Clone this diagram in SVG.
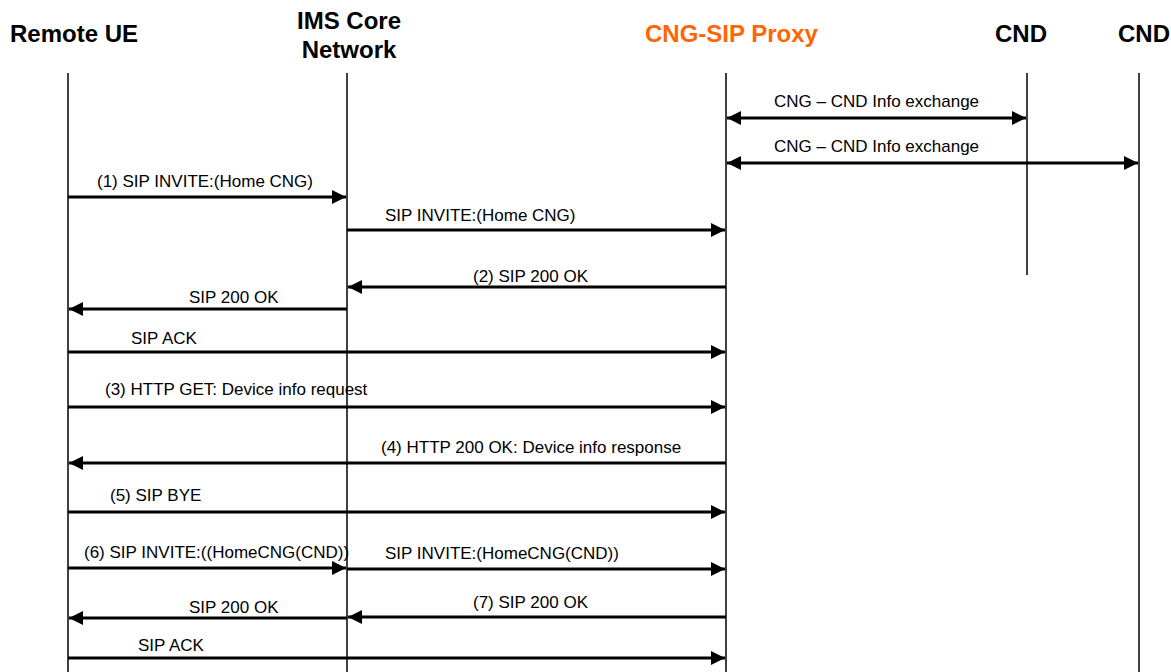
<svg xmlns="http://www.w3.org/2000/svg" width="1171" height="672" viewBox="0 0 1171 672">
<style>
.hdr{font-family:"Liberation Sans",Arial,sans-serif;font-weight:bold;font-size:24px;fill:#000}
.org{fill:#FF6600}
.lbl{font-family:"Liberation Sans",Arial,sans-serif;font-size:17px;fill:#000}
.life{stroke:#000;stroke-width:1.5;fill:none}
.msg{stroke:#000;stroke-width:3;fill:none;marker-end:url(#ah)}
.both{marker-start:url(#ah)}
</style>
<defs>
<marker id="ah" markerUnits="userSpaceOnUse" markerWidth="15" markerHeight="14" refX="14" refY="7" orient="auto-start-reverse" viewBox="0 0 15 14">
<path d="M0,0 L14,7 L0,14 z" fill="#000"/>
</marker>
</defs>
<rect width="1171" height="672" fill="#fff"/>
<g id="remote-ue">
<text class="hdr" x="10" y="42">Remote UE</text>
<line class="life" x1="68" y1="73" x2="68" y2="672"/>
</g>
<g id="ims-core">
<text class="hdr" x="349" y="29" text-anchor="middle">IMS Core</text>
<text class="hdr" x="349" y="58" text-anchor="middle">Network</text>
<line class="life" x1="347" y1="73" x2="347" y2="672"/>
</g>
<g id="cng-sip-proxy">
<text class="hdr org" x="645" y="42">CNG-SIP Proxy</text>
<line class="life" x1="726" y1="73" x2="726" y2="672"/>
</g>
<g id="cnd-1">
<text class="hdr" x="995" y="42">CND</text>
<line class="life" x1="1027" y1="73" x2="1027" y2="275"/>
</g>
<g id="cnd-2">
<text class="hdr" x="1118" y="42">CND</text>
<line class="life" x1="1139" y1="73" x2="1139" y2="672"/>
</g>
<g id="connectors">
<line class="msg both" x1="727" y1="118" x2="1026" y2="118"/>
<text class="lbl" x="774" y="107">CNG – CND Info exchange</text>
<line class="msg both" x1="727" y1="163" x2="1138" y2="163"/>
<text class="lbl" x="774" y="152">CNG – CND Info exchange</text>
<line class="msg" x1="68" y1="197" x2="346" y2="197"/>
<text class="lbl" x="97" y="187">(1) SIP INVITE:(Home CNG)</text>
<line class="msg" x1="347" y1="230" x2="725" y2="230"/>
<text class="lbl" x="385" y="221">SIP INVITE:(Home CNG)</text>
<line class="msg" x1="726" y1="287" x2="348" y2="287"/>
<text class="lbl" x="473" y="282">(2) SIP 200 OK</text>
<line class="msg" x1="347" y1="309" x2="69" y2="309"/>
<text class="lbl" x="189" y="303">SIP 200 OK</text>
<line class="msg" x1="68" y1="352" x2="725" y2="352"/>
<text class="lbl" x="131" y="344">SIP ACK</text>
<line class="msg" x1="68" y1="407" x2="725" y2="407"/>
<text class="lbl" x="105" y="395">(3) HTTP GET: Device info request</text>
<line class="msg" x1="726" y1="463" x2="69" y2="463"/>
<text class="lbl" x="381" y="453">(4) HTTP 200 OK: Device info response</text>
<line class="msg" x1="68" y1="512" x2="725" y2="512"/>
<text class="lbl" x="110" y="501">(5) SIP BYE</text>
<line class="msg" x1="68" y1="568" x2="346" y2="568"/>
<text class="lbl" x="84" y="558">(6) SIP INVITE:((HomeCNG(CND))</text>
<line class="msg" x1="347" y1="569" x2="725" y2="569"/>
<text class="lbl" x="385" y="559">SIP INVITE:(HomeCNG(CND))</text>
<line class="msg" x1="347" y1="618" x2="69" y2="618"/>
<text class="lbl" x="189" y="613">SIP 200 OK</text>
<line class="msg" x1="726" y1="617" x2="348" y2="617"/>
<text class="lbl" x="473" y="608">(7) SIP 200 OK</text>
<line class="msg" x1="68" y1="658" x2="725" y2="658"/>
<text class="lbl" x="138" y="651">SIP ACK</text>
</g>
</svg>
